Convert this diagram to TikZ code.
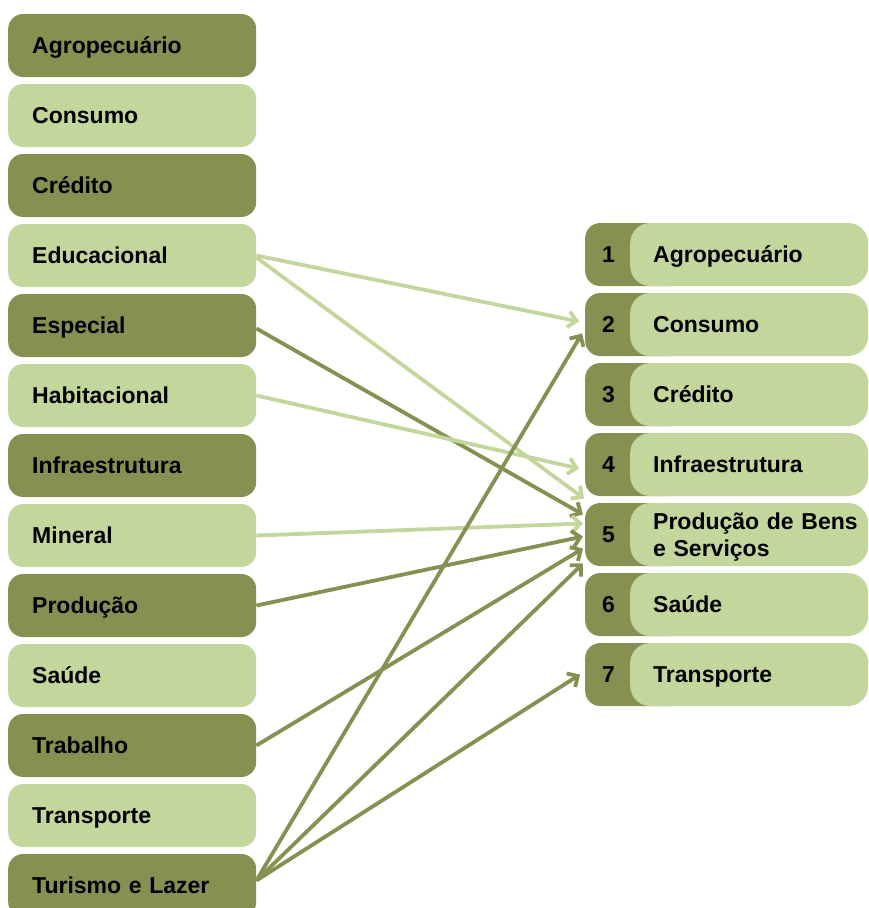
\documentclass[tikz,border=0pt]{standalone}
\usepackage{fontspec}
\setmainfont{Liberation Sans}
\usetikzlibrary{positioning,arrows.meta}
\definecolor{olivedark}{HTML}{878F51}
\definecolor{olivelight}{HTML}{C3D69C}
\tikzset{
  box/.style = {rounded corners=15pt, minimum height=63pt, inner ysep=0pt,
    text height=17pt, text depth=1pt,
    align=left, font=\bfseries\fontsize{23}{27}\selectfont, anchor=west},
  leftdark/.style = {box, fill=olivedark, minimum width=248pt, text width=200pt, inner xsep=24pt},
  leftlight/.style = {leftdark, fill=olivelight},
  numbox/.style = {box, fill=olivedark, minimum width=100pt, text width=66pt, inner xsep=17pt},
  labbox/.style = {box, fill=olivelight, rounded corners=20pt, minimum width=238pt,
    text width=192pt, inner xsep=23pt},
  labboxtwo/.style = {labbox, text depth=27pt},
  link/.style = {line width=3.8pt, -{Straight Barb[length=8pt,width=16pt]}},
  lightlink/.style = {link, draw=olivelight},
  darklink/.style = {link, draw=olivedark}
}
\begin{document}
\begin{tikzpicture}[x=1pt,y=-1pt]
\useasboundingbox (0,0) rectangle (868,908);
% left column
\foreach \i/\name/\sty in {1/Agropecuário/leftdark, 2/Consumo/leftlight,
  3/Crédito/leftdark, 4/Educacional/leftlight, 5/Especial/leftdark,
  6/Habitacional/leftlight, 7/Infraestrutura/leftdark, 8/Mineral/leftlight,
  9/Produção/leftdark, 10/Saúde/leftlight, 11/Trabalho/leftdark,
  12/Transporte/leftlight, 13/Turismo e Lazer/leftdark}
  \node [\sty] (l\i) at (8,{45.5+70*(\i-1)}) {\name};
% right column
\foreach \j/\name/\sty in {1/Agropecuário/labbox, 2/Consumo/labbox, 3/Crédito/labbox,
  4/Infraestrutura/labbox, 5/{\mbox{Produção de Bens}\\e Serviços}/labboxtwo,
  6/Saúde/labbox, 7/Transporte/labbox}
{
  \node [numbox] (r\j) at (585,{254.5+70*(\j-1)}) {\j};
  \node [\sty] (rl\j) at (630,{254.5+70*(\j-1)}) {\name};
}
% links
\draw [lightlink] (l4.east) -- ([xshift=-6pt,yshift=3pt]r2.west);
\draw [lightlink] ([yshift=-2pt]l4.east) -- ([xshift=-1pt,yshift=36pt]r5.west);
\draw [darklink] ([yshift=-3pt]l5.east) -- ([xshift=-2pt,yshift=20pt]r5.west);
\draw [lightlink] (l6.east) -- ([xshift=-6pt,yshift=-4pt]r4.west);
\draw [lightlink] (l8.east) -- ([xshift=-2pt,yshift=11pt]r5.west);
\draw [darklink] (l9.east) -- ([xshift=-2pt,yshift=-2pt]r5.west);
\draw [darklink] (l11.east) -- ([xshift=-2pt,yshift=-14pt]r5.west);
\draw [darklink] ([yshift=5pt]l13.east) -- ([xshift=-3pt,yshift=-9pt]r2.west);
\draw [darklink] ([yshift=5pt]l13.east) -- ([xshift=-2pt,yshift=-29pt]r5.west);
\draw [darklink] ([yshift=5pt]l13.east) -- ([xshift=-5pt]r7.west);
\end{tikzpicture}
\end{document}
